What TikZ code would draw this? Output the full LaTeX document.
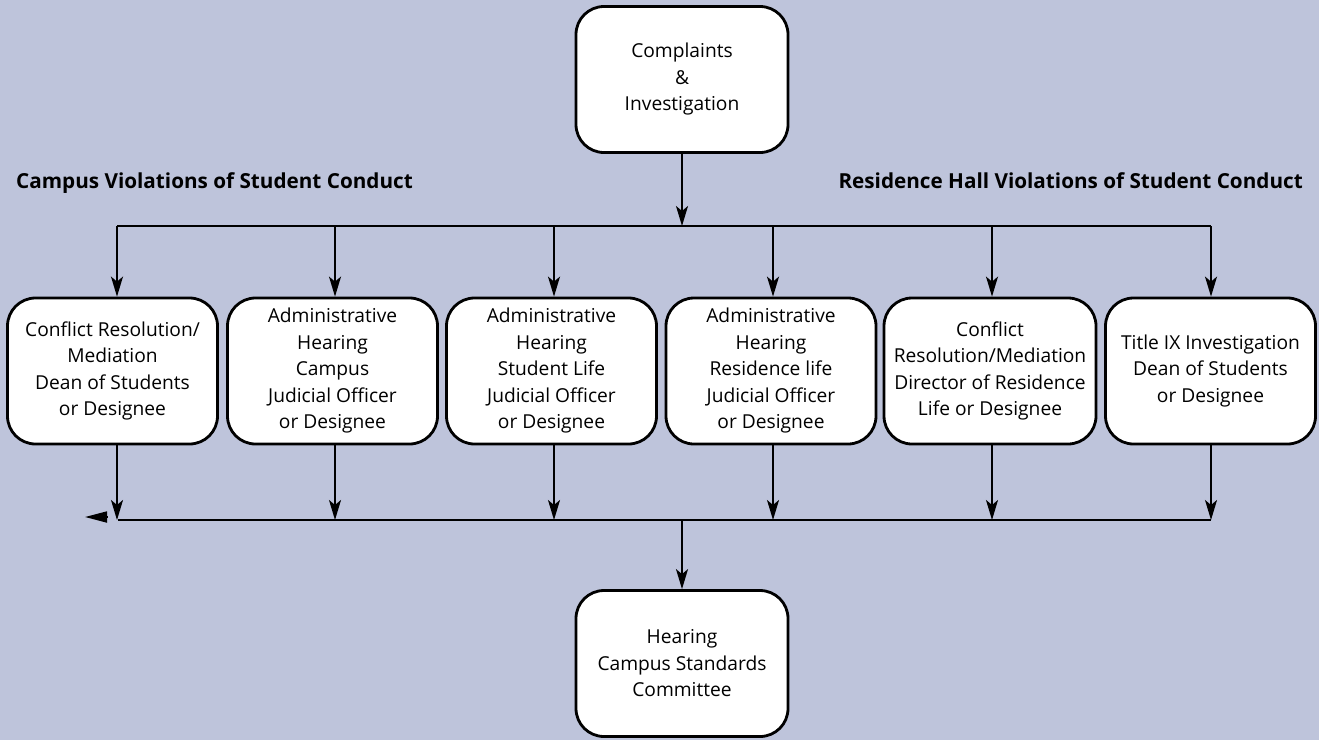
\documentclass[tikz,border=0pt]{standalone}
\usepackage{fontspec}
\setmainfont{Open Sans}
\usetikzlibrary{arrows.meta}
\definecolor{bgc}{RGB}{190,196,219}
\tikzset{
  box/.style={draw=black, fill=white, line width=2.8pt, rounded corners=28pt,
    minimum width=210pt, minimum height=146pt, align=center, inner sep=0pt,
    font=\fontsize{19.2}{26.5}\selectfont},
  conn/.style={line width=1.8pt, black},
  arr/.style={conn, -{Stealth[length=20pt,width=12pt,inset=5pt]}},
  heading/.style={font=\bfseries\fontsize{20.7}{24}\selectfont, inner sep=0pt}
}
\begin{document}
\begin{tikzpicture}[x=1pt,y=-1pt]
\fill[bgc] (0,0) rectangle (1319,740);
\useasboundingbox (0,0) rectangle (1319,740);

\node[box, minimum width=212pt] (top) at (682,79.5) {Complaints\\\&\\Investigation};

\node[heading, anchor=base west] (hl) at (16,188) {Campus Violations of Student Conduct};
\node[heading, anchor=base east] (hr) at (1303,188) {Residence Hall Violations of Student Conduct};

\node[box] (b1) at (112.5,371) {Conflict Resolution/\\Mediation\\Dean of Students\\or Designee};
\node[box] (b2) at (332.5,371) {Administrative\\Hearing\\Campus\\Judicial Officer\\or Designee};
\node[box] (b3) at (551.5,371) {Administrative\\Hearing\\Student Life\\Judicial Officer\\or Designee};
\node[box] (b4) at (771,371) {Administrative\\Hearing\\Residence life\\Judicial Officer\\or Designee};
\node[box, minimum width=212pt] (b5) at (990,371) {Conflict\\Resolution/Mediation\\Director of Residence\\Life or Designee};
\node[box] (b6) at (1210.5,371) {Title IX Investigation\\Dean of Students\\or Designee};

\node[box, minimum width=212pt] (bot) at (682,663.5) {Hearing\\Campus Standards\\Committee};

% top distribution line
\coordinate (tj) at (682,226);
\coordinate (t1) at (117,226);
\coordinate (t2) at (335,226);
\coordinate (t3) at (554,226);
\coordinate (t4) at (773,226);
\coordinate (t5) at (992,226);
\coordinate (t6) at (1211,226);
\draw[conn] (t1) -- (t6);
\draw[arr] (top.south) -- (tj);
\foreach \i in {1,...,6} {
  \draw[arr] (t\i) -- (b\i.north -| t\i);
}

% bottom collection line
\coordinate (u1) at (117,520);
\coordinate (u2) at (335,520);
\coordinate (u3) at (554,520);
\coordinate (u4) at (773,520);
\coordinate (u5) at (992,520);
\coordinate (u6) at (1211,520);
\coordinate (uj) at (682,520);
\coordinate (lt) at (85,517);
\coordinate (ls) at (107,517);
\draw[conn] (118,520) -- (u6);
\foreach \i in {1,...,6} {
  \draw[arr] (b\i.south -| u\i) -- (u\i);
}
\draw[conn, -{Triangle[length=22pt,width=11pt]}] (ls) -- (lt);
\draw[arr] (uj) -- (bot.north);
\end{tikzpicture}
\end{document}
